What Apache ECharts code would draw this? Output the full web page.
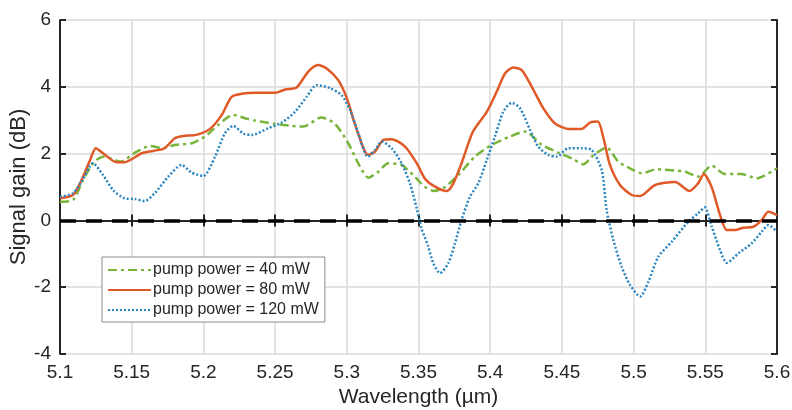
<!DOCTYPE html>
<html>
<head>
<meta charset="utf-8">
<script src="https://cdn.jsdelivr.net/npm/echarts@6/dist/echarts.min.js"></script>
<style>
  html, body { margin: 0; padding: 0; background: #fff; }
  #container { width: 792px; height: 410px; }
</style>
</head>
<body>
<div id="container"></div>
<script>
// pump power = 40 mW
var wl40 = [5.100, 5.109, 5.116, 5.124, 5.131, 5.142, 5.1535, 5.163, 5.171, 5.180, 5.192, 5.201, 5.2104, 5.2208, 5.229,
  5.236, 5.250, 5.2616, 5.2697, 5.2822, 5.2918, 5.301, 5.3092, 5.315, 5.322, 5.3289, 5.3382, 5.3476, 5.3545, 5.361,
  5.3685, 5.3778, 5.3894, 5.401, 5.4126, 5.4243, 5.436, 5.4475, 5.4568, 5.4649, 5.4719, 5.4812, 5.4893, 5.4987,
  5.5056, 5.5161, 5.5289, 5.5358, 5.545, 5.5545, 5.5635, 5.575, 5.5858, 5.600];
var gain40 = [0.56, 0.61, 1.21, 1.76, 1.91, 1.76, 2.06, 2.23, 2.16, 2.26, 2.31, 2.51, 2.86, 3.16, 3.06,
  2.99, 2.89, 2.83, 2.81, 3.08, 2.89, 2.31, 1.61, 1.28, 1.46, 1.71, 1.66, 1.30, 1.00, 0.88,
  1.00, 1.36, 1.91, 2.26, 2.49, 2.66, 2.26, 2.03, 1.86, 1.68, 1.95, 2.18, 1.76, 1.53,
  1.41, 1.53, 1.49, 1.46, 1.31, 1.64, 1.39, 1.39, 1.26, 1.56];

// pump power = 80 mW
var wl80 = [5.100, 5.109, 5.114, 5.121, 5.125, 5.130, 5.1395, 5.145, 5.157, 5.165, 5.173, 5.180, 5.186, 5.195, 5.2046,
  5.2128, 5.2197, 5.2278, 5.236, 5.250, 5.257, 5.265, 5.273, 5.280, 5.286, 5.294, 5.300, 5.307, 5.315, 5.3197,
  5.3255, 5.3313, 5.3406, 5.3488, 5.3545, 5.3615, 5.3697, 5.3743, 5.380, 5.388, 5.3976, 5.4045, 5.4103, 5.416,
  5.422, 5.429, 5.437, 5.445, 5.4545, 5.4638, 5.4696, 5.475, 5.479, 5.4835, 5.4905, 5.4987, 5.5045, 5.515,
  5.5289, 5.539, 5.545, 5.549, 5.5545, 5.5603, 5.565, 5.5707, 5.5765, 5.5835, 5.5893, 5.594, 5.600];
var gain80 = [0.66, 0.76, 1.11, 1.81, 2.16, 2.01, 1.74, 1.74, 2.01, 2.08, 2.16, 2.46, 2.53, 2.56, 2.74,
  3.16, 3.70, 3.80, 3.82, 3.82, 3.92, 3.98, 4.45, 4.65, 4.55, 4.20, 3.66, 2.71, 1.96, 2.06,
  2.41, 2.43, 2.21, 1.71, 1.25, 1.01, 0.88, 1.11, 1.71, 2.66, 3.25, 3.85, 4.40, 4.58,
  4.50, 4.00, 3.36, 2.91, 2.74, 2.74, 2.93, 2.96, 2.46, 1.66, 1.06, 0.76, 0.73, 1.06,
  1.15, 0.88, 1.11, 1.39, 0.99, 0.16, -0.29, -0.29, -0.22, -0.19, 0.01, 0.26, 0.16];

// pump power = 120 mW
var wl120 = [5.100, 5.109, 5.115, 5.123, 5.130, 5.137, 5.145, 5.152, 5.159, 5.166, 5.1755, 5.1848, 5.1918, 5.200,
  5.2081, 5.215, 5.2208, 5.2278, 5.2337, 5.2453, 5.2546, 5.2639, 5.272, 5.279, 5.2883, 5.2964, 5.3022, 5.308,
  5.3146, 5.3197, 5.3243, 5.3313, 5.3382, 5.344, 5.3488, 5.3522, 5.3565, 5.3603, 5.365, 5.3708, 5.3754, 5.380,
  5.3859, 5.3917, 5.3976, 5.4033, 5.4091, 5.415, 5.4208, 5.4278, 5.4335, 5.4405, 5.4464, 5.4545, 5.4638, 5.4708,
  5.4778, 5.4812, 5.4859, 5.4917, 5.4975, 5.5045, 5.5103, 5.5172, 5.5266, 5.5381, 5.545, 5.5496, 5.5545, 5.5603,
  5.565, 5.573, 5.5823, 5.5893, 5.594, 5.600];
var gain120 = [0.71, 0.81, 1.16, 1.71, 1.36, 0.91, 0.66, 0.64, 0.58, 0.81, 1.31, 1.66, 1.43, 1.33,
  1.91, 2.61, 2.83, 2.60, 2.56, 2.76, 2.93, 3.25, 3.70, 4.05, 3.96, 3.75, 3.31, 2.61,
  1.91, 2.11, 2.36, 2.16, 1.71, 1.11, 0.35, -0.25, -0.75, -1.28, -1.58, -1.28, -0.69, 0.01,
  0.71, 1.11, 1.81, 2.51, 3.25, 3.52, 3.36, 2.71, 2.21, 1.96, 1.91, 2.16, 2.16, 2.11,
  1.50, 0.31, -0.59, -1.39, -1.93, -2.28, -1.84, -1.09, -0.64, -0.04, 0.21, 0.39, -0.19, -0.89,
  -1.27, -0.99, -0.69, -0.34, -0.14, -0.34];

var seriesNames = ["pump power = 40 mW", "pump power = 80 mW", "pump power = 120 mW"];

function pairs(xs, ys) {
  return xs.map(function (x, i) { return [x, ys[i]]; });
}

var textColor = "#262626";
var font = "Liberation Sans, Arial, sans-serif";
var tickStyle = { inside: true, length: 6, lineStyle: { color: textColor, width: 2 } };
var axisLineStyle = { show: true, lineStyle: { color: textColor, width: 2 } };

var myChart = echarts.init(document.getElementById("container"));
myChart.setOption({
  animation: false,
  backgroundColor: "#fff",
  grid: { left: 60, right: 15, top: 20, bottom: 56, outerBoundsMode: "none" },
  legend: {
    orient: "vertical",
    left: 102,
    top: 257,
    data: seriesNames,
    backgroundColor: "#fff",
    borderColor: "#8c8c8c",
    borderWidth: 1,
    padding: [5, 6, 4, 5],
    itemWidth: 43,
    itemHeight: 14,
    itemGap: 4,
    itemStyle: { opacity: 0 },
    textStyle: { fontFamily: font, fontSize: 16, color: textColor, padding: [0, 0, 0, -3] }
  },
  xAxis: [
    {
      type: "value",
      min: 5.1,
      max: 5.6,
      interval: 0.05,
      name: "Wavelength (\u00b5m)",
      nameLocation: "middle",
      nameGap: 33,
      nameTextStyle: { fontFamily: font, fontSize: 21, color: textColor },
      axisLine: axisLineStyle,
      axisTick: tickStyle,
      axisLabel: {
        margin: 9,
        fontFamily: font,
        fontSize: 19,
        color: textColor,
        formatter: function (v) { return String(parseFloat(v.toFixed(2))); }
      },
      splitLine: { show: true, lineStyle: { color: "#dadada", width: 1.5 } }
    },
    {
      type: "value",
      position: "top",
      min: 5.1,
      max: 5.6,
      interval: 0.05,
      axisLine: axisLineStyle,
      axisTick: tickStyle,
      axisLabel: { show: false },
      splitLine: { show: false }
    }
  ],
  yAxis: [
    {
      type: "value",
      min: -4,
      max: 6,
      interval: 2,
      name: "Signal gain (dB)",
      nameLocation: "middle",
      nameGap: 30,
      nameMoveOverlap: false,
      nameTextStyle: { fontFamily: font, fontSize: 22, color: textColor },
      axisLine: axisLineStyle,
      axisTick: tickStyle,
      axisLabel: { margin: 9, fontFamily: font, fontSize: 19, color: textColor },
      splitLine: { show: true, lineStyle: { color: "#dadada", width: 1.5 } }
    },
    {
      type: "value",
      position: "right",
      min: -4,
      max: 6,
      interval: 2,
      axisLine: axisLineStyle,
      axisTick: tickStyle,
      axisLabel: { show: false },
      splitLine: { show: false }
    }
  ],
  series: [
    {
      name: seriesNames[0],
      type: "line",
      data: pairs(wl40, gain40),
      symbol: "none",
      smooth: 0.25,
      lineStyle: { color: "#77b43a", width: 2.5, type: [9, 4, 3, 4] },
      itemStyle: { color: "#77b43a" },
      markLine: {
        silent: true,
        symbol: ["none", "none"],
        label: { show: false },
        data: [{ yAxis: 0 }],
        lineStyle: { color: "#000", width: 3.5, type: [16, 10] }
      }
    },
    {
      name: seriesNames[1],
      type: "line",
      data: pairs(wl80, gain80),
      symbol: "none",
      smooth: 0.25,
      lineStyle: { color: "#e05a27", width: 2.5 },
      itemStyle: { color: "#e05a27" }
    },
    {
      name: seriesNames[2],
      type: "line",
      data: pairs(wl120, gain120),
      symbol: "none",
      smooth: 0.25,
      lineStyle: { color: "#2a86c2", width: 2.5, type: [2, 2] },
      itemStyle: { color: "#2a86c2" }
    }
  ]
});
</script>
</body>
</html>
